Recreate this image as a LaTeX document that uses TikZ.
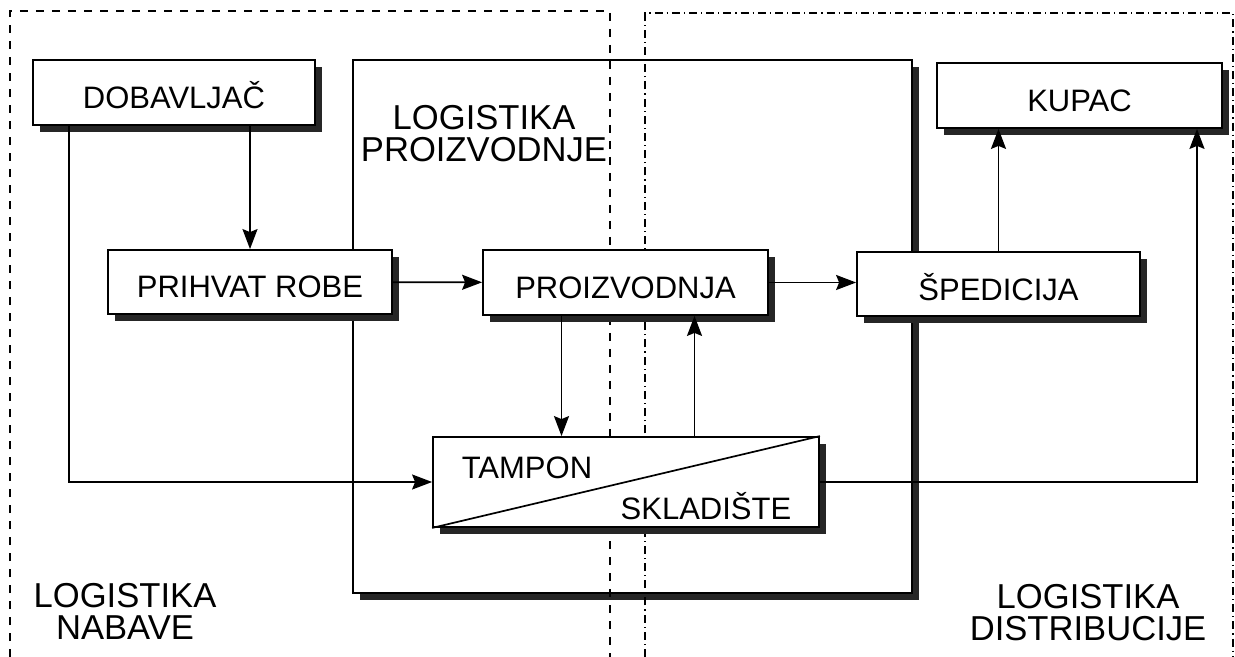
\documentclass[tikz,border=0pt]{standalone}
\usepackage{fontspec}
\setmainfont{Liberation Sans}
\usetikzlibrary{arrows.meta,shadows}

\tikzset{
  box/.style={draw, fill=white, line width=0.9pt, inner sep=0pt,
    text height=16pt, text depth=0pt, font=\fontsize{15.5}{18}\selectfont,
    drop shadow={shadow xshift=3.3pt, shadow yshift=-3.3pt, fill=black!85, opacity=1}},
  boxtext/.style={inner sep=0pt, text height=11.1pt, text depth=0pt,
    font=\fontsize{15.5}{18}\selectfont},
  region/.style={align=center, font=\fontsize{17.3}{16}\selectfont},
  flow/.style={line width=0.85pt, -{Stealth[length=10pt, width=7.5pt, inset=1.5pt]}},
  zone/.style={line width=0.75pt, dash pattern=on 4pt off 4pt},
  zonedot/.style={line width=0.75pt, dash pattern=on 4pt off 2pt on 0.6pt off 2pt},
}

\begin{document}
\begin{tikzpicture}[x=0.5pt, y=-0.5pt]
\useasboundingbox (0,0) rectangle (1235,657);

\node[box, minimum width=279.5pt, minimum height=266.5pt] (prodframe) at (632.5,326.5) {};

\draw[zone] (10,657) -- (10,11) -- (610,11) -- (610,657);
\draw[zonedot] (645,657) -- (645,13) -- (1233,13) -- (1233,657);

\node[box, minimum width=141pt, minimum height=32.5pt] (dob) at (174,92.5) {DOBAVLJAČ};
\node[box, minimum width=142.5pt, minimum height=32.5pt] (kupac) at (1079.5,95.5) {KUPAC};
\node[box, minimum width=142pt, minimum height=32pt] (prihvat) at (250,282) {PRIHVAT ROBE};
\node[box, minimum width=142.5pt, minimum height=32.5pt] (proizv) at (625.5,282.5) {PROIZVODNJA};
\node[box, minimum width=141.5pt, minimum height=32pt] (sped) at (998.5,284) {ŠPEDICIJA};
\node[box, minimum width=193pt, minimum height=45pt] (tampon) at (626,482) {};
\draw[line width=0.85pt] (tampon.south west) -- (tampon.north east);
\node[boxtext] (tamponlbl) at (527,467) {TAMPON};
\node[boxtext] (skladlbl) at (706,508) {SKLADIŠTE};

\coordinate (downx) at ([xshift=-32pt]proizv.south);
\coordinate (upx) at ([xshift=34.5pt]proizv.south);
\coordinate (dobx) at ([xshift=-52.5pt]dob.south);
\coordinate (kupx) at ([xshift=58.75pt]kupac.south);

\draw[flow] (dob.south -| prihvat.north) -- (prihvat.north);
\draw[flow] (dobx) |- (tampon.west);
\draw[flow] (prihvat) -- (proizv);
\draw[flow] (proizv.east) -- (proizv.east -| sped.west);
\draw[flow] (downx) -- (downx |- tampon.north);
\draw[flow] (upx |- tampon.north) -- (upx);
\draw[flow] (sped.north) -- (sped.north |- kupac.south);
\draw[flow] (tampon.east) -| (kupx);

\node[region] (prodlbl) at (484,134) {LOGISTIKA\\PROIZVODNJE};
\node[region] (nabavelbl) at (125,611) {LOGISTIKA\\NABAVE};
\node[region] (distriblbl) at (1088,613) {LOGISTIKA\\DISTRIBUCIJE};
\end{tikzpicture}
\end{document}
